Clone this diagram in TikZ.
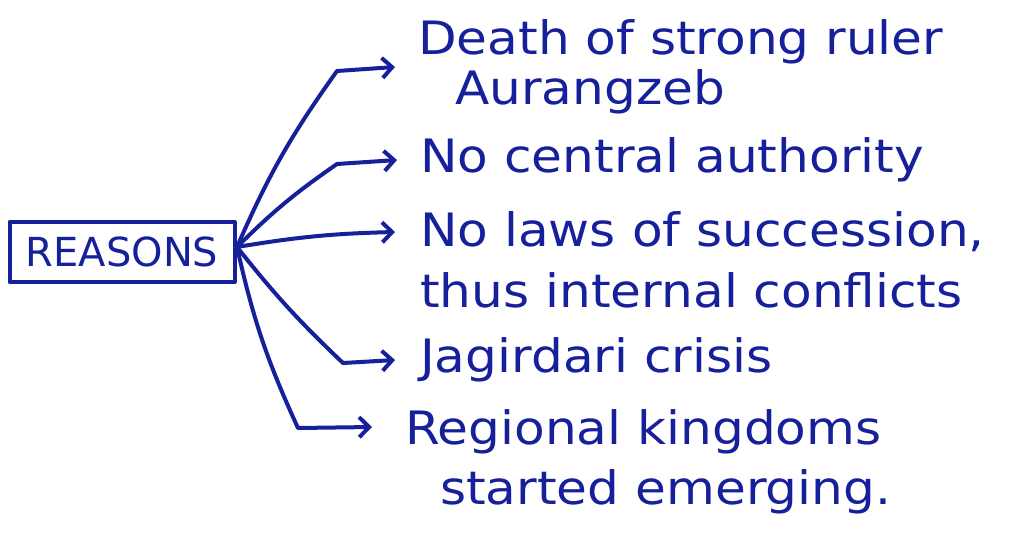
\documentclass[tikz,border=0pt]{standalone}
\usepackage{fontspec}
\usepackage{graphicx}
\setmainfont{DejaVu Sans}
\usetikzlibrary{arrows.meta}
\definecolor{ink}{RGB}{22,32,155}
\newcommand{\wide}[1]{\scalebox{1.09}[1]{#1}}
\tikzset{
  pen/.style={draw=ink, line width=4pt, line cap=round, line join=round},
  link/.style={pen, -{Straight Barb[length=10pt,width=20pt,line width=4pt]}},
  txt/.style={text=ink, anchor=west, inner sep=0pt, font=\fontsize{46}{54}\selectfont},
  boxstyle/.style={pen, line width=4pt, minimum width=225pt, minimum height=60pt, inner sep=0pt, text=ink, font=\fontsize{40}{46}\selectfont}
}
\begin{document}
\begin{tikzpicture}[x=1pt,y=-1pt]
\useasboundingbox (0,0) rectangle (1014,533);
\node[boxstyle] (reasons) at (122,252) {REASONS};
\coordinate (o) at (237,247);
% text nodes
\node[txt] (t1) at (418,42) {\wide{Death of strong ruler}};
\node[txt] (t1b) at (455,92) {\wide{Aurangzeb}};
\node[txt] (t2) at (420,160) {\wide{No central authority}};
\node[txt] (t3) at (420,232) {\wide{No laws of succession,}};
\node[txt] (t3b) at (420,290) {\wide{thus internal conflicts}};
\node[txt] (t4) at (420,360) {\wide{Jagirdari crisis}};
\node[txt] (t5) at (405,432) {\wide{Regional kingdoms}};
\node[txt] (t5b) at (440,492) {\wide{started emerging.}};
% bends and ends
\coordinate (b1) at (337,71);
\coordinate (e1) at (395,67);
\coordinate (b2) at (337,164);
\coordinate (e2) at (397,160);
\coordinate (e3) at (395,232);
\coordinate (b4) at (343,363);
\coordinate (e4) at (395,360);
\coordinate (b5) at (298,428);
\coordinate (e5) at (372,427);
\draw[link] (o) to[bend left=6] (b1) -- (e1);
\draw[link] (o) to[bend left=5] (b2) -- (e2);
\draw[link] (o) to[bend left=4] (e3);
\draw[link] (o) to[bend right=4] (b4) -- (e4);
\draw[link] (o) to[bend right=6] (b5) -- (e5);
\end{tikzpicture}
\end{document}
